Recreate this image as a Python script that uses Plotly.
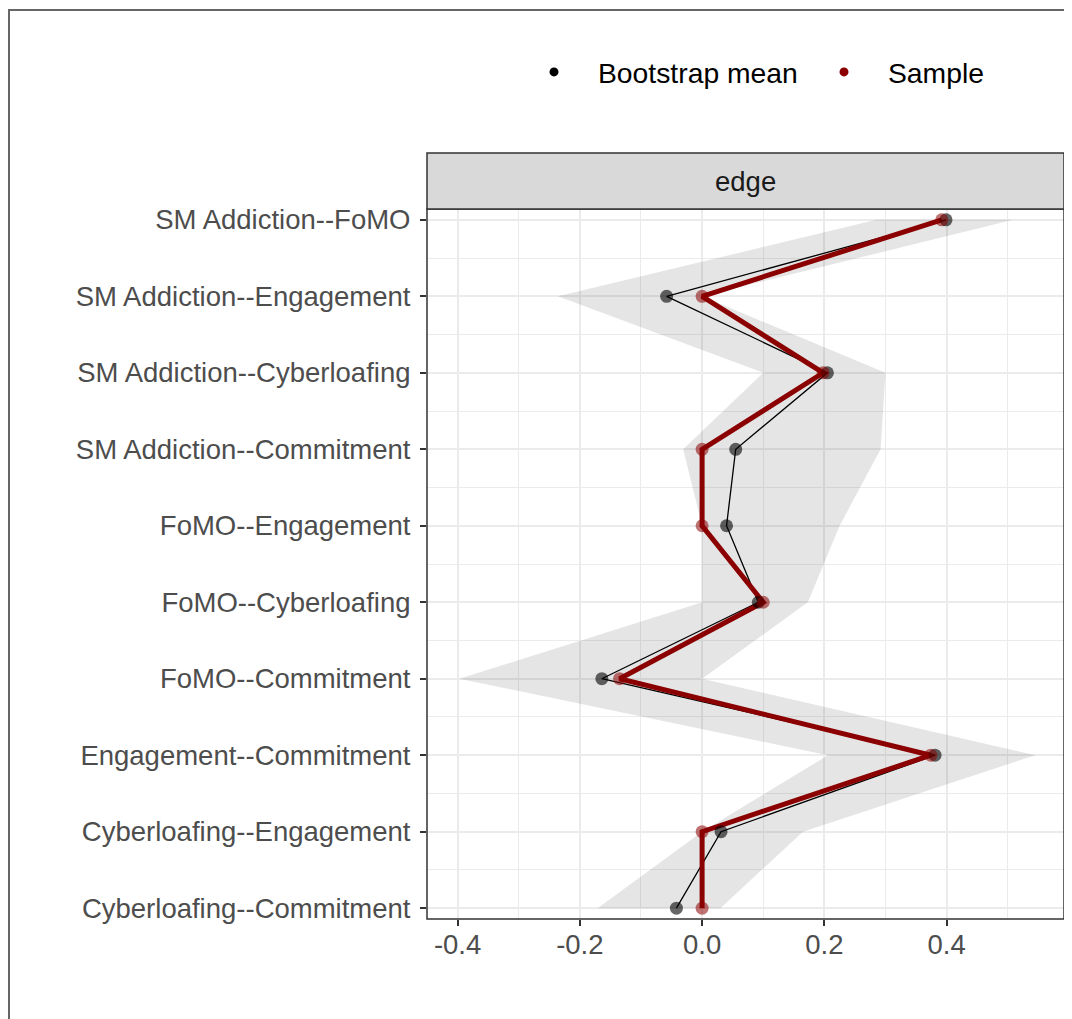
import plotly.graph_objects as go

# ---- data ----
edges = [
    "SM Addiction--FoMO",
    "SM Addiction--Engagement",
    "SM Addiction--Cyberloafing",
    "SM Addiction--Commitment",
    "FoMO--Engagement",
    "FoMO--Cyberloafing",
    "FoMO--Commitment",
    "Engagement--Commitment",
    "Cyberloafing--Engagement",
    "Cyberloafing--Commitment",
]
boot_mean = [0.399, -0.058, 0.205, 0.055, 0.040, 0.092, -0.164, 0.381, 0.031, -0.042]
sample = [0.392, 0.000, 0.198, 0.000, 0.000, 0.100, -0.135, 0.374, 0.000, 0.000]
ci_lower = [0.285, -0.236, 0.100, -0.031, 0.000, 0.000, -0.397, 0.206, 0.000, -0.171]
ci_upper = [0.509, 0.000, 0.300, 0.292, 0.225, 0.173, 0.000, 0.545, 0.165, 0.030]
x_ticks = [-0.4, -0.2, 0.0, 0.2, 0.4]
x_ticklabels = ["-0.4", "-0.2", "0.0", "0.2", "0.4"]

pos = list(range(len(edges)))

FONT = "Liberation Sans, Arial, sans-serif"
FS = 27.5
FS_LEG = 28.3
DARKRED = "#8B0000"

fig = go.Figure()

# CI ribbon
fig.add_trace(go.Scatter(
    x=ci_lower + ci_upper[::-1],
    y=pos + pos[::-1],
    fill="toself", mode="lines",
    fillcolor="rgba(0,0,0,0.10)", line=dict(width=0, color="rgba(0,0,0,0)"),
    showlegend=False, hoverinfo="skip",
))
# lines
fig.add_trace(go.Scatter(x=boot_mean, y=pos, mode="lines",
                         line=dict(color="black", width=1.3), showlegend=False))
fig.add_trace(go.Scatter(x=sample, y=pos, mode="lines",
                         line=dict(color=DARKRED, width=5), showlegend=False))
# points
fig.add_trace(go.Scatter(x=boot_mean, y=pos, mode="markers",
                         marker=dict(color="rgba(0,0,0,0.6)", size=13, line=dict(width=0)),
                         showlegend=False))
fig.add_trace(go.Scatter(x=sample, y=pos, mode="markers",
                         marker=dict(color="rgba(139,0,0,0.55)", size=13, line=dict(width=0)),
                         showlegend=False))
# legend entries
fig.add_trace(go.Scatter(x=[None], y=[None], mode="markers", name="Bootstrap mean",
                         marker=dict(color="black", size=9), legend="legend"))
fig.add_trace(go.Scatter(x=[None], y=[None], mode="markers", name="Sample",
                         marker=dict(color=DARKRED, size=9), legend="legend2"))

# page body has an 8px margin, so figure coords = page coords - 8
OFF = 8
W, H = 1072 - OFF, 1019 - OFF
L, T = 427 - OFF, 209 - OFF
R = W - (1064 - OFF)
B = H - (919 - OFF)
pw, ph = W - L - R, H - T - B

strip_top = 1 + 56 / ph
IW = 78
DOT_OFF = IW / 2 + 4
leg_y = 1 + (T - (72 - OFF)) / ph


def leg(dot_page_x):
    return dict(orientation="h", x=(dot_page_x - DOT_OFF - OFF - L) / pw, xanchor="left",
                y=leg_y, yanchor="middle",
                font=dict(family=FONT, size=FS_LEG, color="black"),
                itemwidth=IW, bgcolor="rgba(0,0,0,0)")


fig.update_layout(
    width=W, height=H,
    margin=dict(l=L, r=R, t=T, b=B, autoexpand=False),
    paper_bgcolor="white", plot_bgcolor="white",
    font=dict(family=FONT, size=FS, color="black"),
    showlegend=True,
    legend=leg(553),
    legend2=leg(843),
    xaxis=dict(
        range=[-0.45, 0.592], tickmode="array", tickvals=x_ticks, ticktext=x_ticklabels,
        showgrid=True, gridcolor="#ebebeb", gridwidth=2, zeroline=False,
        minor=dict(dtick=0.1, tick0=-0.5, showgrid=True, gridcolor="#ebebeb", gridwidth=1.2, ticks=""),
        ticks="outside", ticklen=6, tickwidth=1.5, tickcolor="#333333",
        tickfont=dict(family=FONT, size=FS, color="#4d4d4d"),
        showline=False, automargin=False, ticklabelstandoff=-5,
    ),
    yaxis=dict(
        range=[9.1417, -0.1417], tickmode="array", tickvals=pos, ticktext=edges,
        showgrid=True, gridcolor="#ebebeb", gridwidth=2, zeroline=False,
        minor=dict(tickmode="array", tickvals=[p + 0.5 for p in pos[:-1]], showgrid=True,
                   gridcolor="#ebebeb", gridwidth=1.2, ticks=""),
        ticks="outside", ticklen=6, tickwidth=1.5, tickcolor="#333333",
        tickfont=dict(family=FONT, size=FS, color="#4d4d4d"),
        showline=False, automargin=False, ticklabelstandoff=4,
    ),
    shapes=[
        # panel border
        dict(type="rect", xref="paper", yref="paper", x0=0, x1=1, y0=0, y1=1,
             line=dict(color="#333333", width=1.5), layer="above"),
        # strip
        dict(type="rect", xref="paper", yref="paper", x0=0, x1=1, y0=1, y1=strip_top,
             fillcolor="#d9d9d9", line=dict(color="#333333", width=1.5)),
        # outer frame
        dict(type="rect", xref="paper", yref="paper",
             x0=(1 - L) / pw, x1=(W + 20 - L) / pw,
             y0=1 + (T - 2) / ph, y1=-(H + 20 - (H - B)) / ph,
             line=dict(color="#666666", width=2)),
    ],
    annotations=[
        dict(text="edge", xref="paper", yref="paper", x=0.5, y=(1 + strip_top) / 2,
             xanchor="center", yanchor="middle", showarrow=False,
             font=dict(family=FONT, size=FS, color="#1a1a1a")),
    ],
)

fig.write_html("out.html")
